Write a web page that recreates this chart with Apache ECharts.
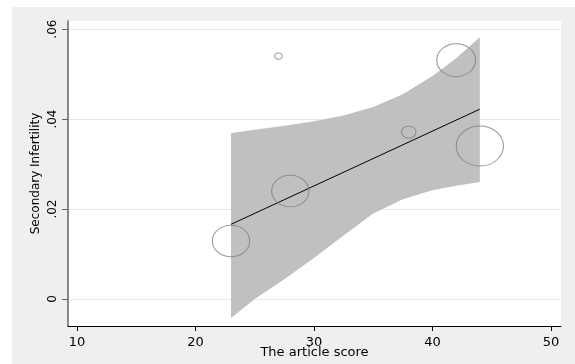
<!DOCTYPE html>
<html>
<head>
<meta charset="utf-8">
<script src="https://cdn.jsdelivr.net/npm/echarts@6/dist/echarts.min.js"></script>
<style>
html,body{margin:0;padding:0;background:#ffffff;}
#chart{width:575px;height:364px;}
</style>
</head>
<body>
<div id="chart"></div>
<script>
// Scatter points: article score vs secondary infertility, with weights
const scores = [23, 28, 27, 38, 42, 44];
const infertility = [0.0129, 0.024, 0.054, 0.0371, 0.0531, 0.034];
const weights = [10, 10, 0.4, 1.5, 10.8, 16];

// Fitted line
const fitX = [23, 44];
const fitY = [0.0166, 0.0422];

// Confidence band (upper and lower edges)
const bandX      = [23, 25, 27.5, 30, 32.5, 35, 37.5, 40, 42, 44];
const bandUpperY = [0.0369, 0.0376, 0.0385, 0.0395, 0.0408, 0.0427, 0.0455, 0.0496, 0.0535, 0.0582];
const bandLowerY = [-0.0042, 0.0000, 0.0044, 0.0091, 0.0141, 0.0190, 0.0222, 0.0242, 0.0252, 0.0260];

// Tick labels
const xTicks = [10, 20, 30, 40, 50];
const yTicks = [0, 0.02, 0.04, 0.06];
const yTickLabels = {'0': '0', '0.02': '.02', '0.04': '.04', '0.06': '.06'};

const FONT = 'DejaVu Sans';
const chart = echarts.init(document.getElementById('chart'), null, {renderer: 'canvas'});

const bandPoly = [];
for (let i = 0; i < bandX.length; i++) bandPoly.push([bandX[i], bandUpperY[i]]);
for (let i = bandX.length - 1; i >= 0; i--) bandPoly.push([bandX[i], bandLowerY[i]]);

const option = {
  animation: false,
  backgroundColor: 'transparent',
  graphic: [{
    type: 'rect', z: -10, silent: true,
    shape: {x: 12, y: 7, width: 563, height: 357},
    style: {fill: '#efefef'}
  }],
  grid: {
    left: 68, top: 21, right: 14, bottom: 38,
    containLabel: false, outerBoundsMode: 'none',
    show: true, backgroundColor: '#ffffff', borderWidth: 0
  },
  xAxis: {
    type: 'value', min: 9.24, max: 50.85,
    name: 'The article score', nameLocation: 'middle', nameGap: 20, nameMoveOverlap: false,
    nameTextStyle: {fontFamily: FONT, fontSize: 13, color: '#000'},
    axisLine: {show: true, onZero: false, lineStyle: {color: '#000', width: 1}},
    axisTick: {show: true, length: 5, lineStyle: {color: '#000'}, customValues: xTicks},
    axisLabel: {fontFamily: FONT, fontSize: 13, color: '#000', margin: 10, customValues: xTicks},
    splitLine: {show: false}
  },
  yAxis: {
    type: 'value', min: -0.006, max: 0.0618,
    name: 'Secondary Infertility', nameLocation: 'middle', nameGap: 26, nameMoveOverlap: false,
    nameTextStyle: {fontFamily: FONT, fontSize: 12, color: '#000'},
    axisLine: {show: true, onZero: false, lineStyle: {color: '#666', width: 1.5}},
    axisTick: {show: true, length: 6, lineStyle: {color: '#666'}, customValues: yTicks},
    axisLabel: {
      fontFamily: FONT, fontSize: 12, color: '#000', margin: 9, rotate: 90,
      customValues: yTicks,
      formatter: v => yTickLabels[String(+(+v).toFixed(2))] ?? String(v)
    },
    splitLine: {show: true, lineStyle: {color: '#e8e8e8', width: 1}}
  },
  series: [
    {
      type: 'custom', z: 1, silent: true,
      data: [0],
      renderItem: (params, api) => {
        const pts = bandPoly.map(p => api.coord(p));
        return {type: 'polygon', shape: {points: pts}, style: {fill: '#c0c0c0'}};
      }
    },
    {
      type: 'line', z: 2, silent: true, symbol: 'none',
      data: fitX.map((x, i) => [x, fitY[i]]),
      lineStyle: {color: '#000', width: 1}
    },
    {
      type: 'scatter', z: 3, silent: true,
      data: scores.map((x, i) => [x, infertility[i], weights[i]]),
      symbol: 'circle',
      symbolSize: d => { const h = 10 * Math.sqrt(d[2]); return [h * 1.18, h]; },
      itemStyle: {color: 'rgba(0,0,0,0)', borderColor: '#808080', borderWidth: 1}
    }
  ]
};
chart.setOption(option);
</script>
</body>
</html>
